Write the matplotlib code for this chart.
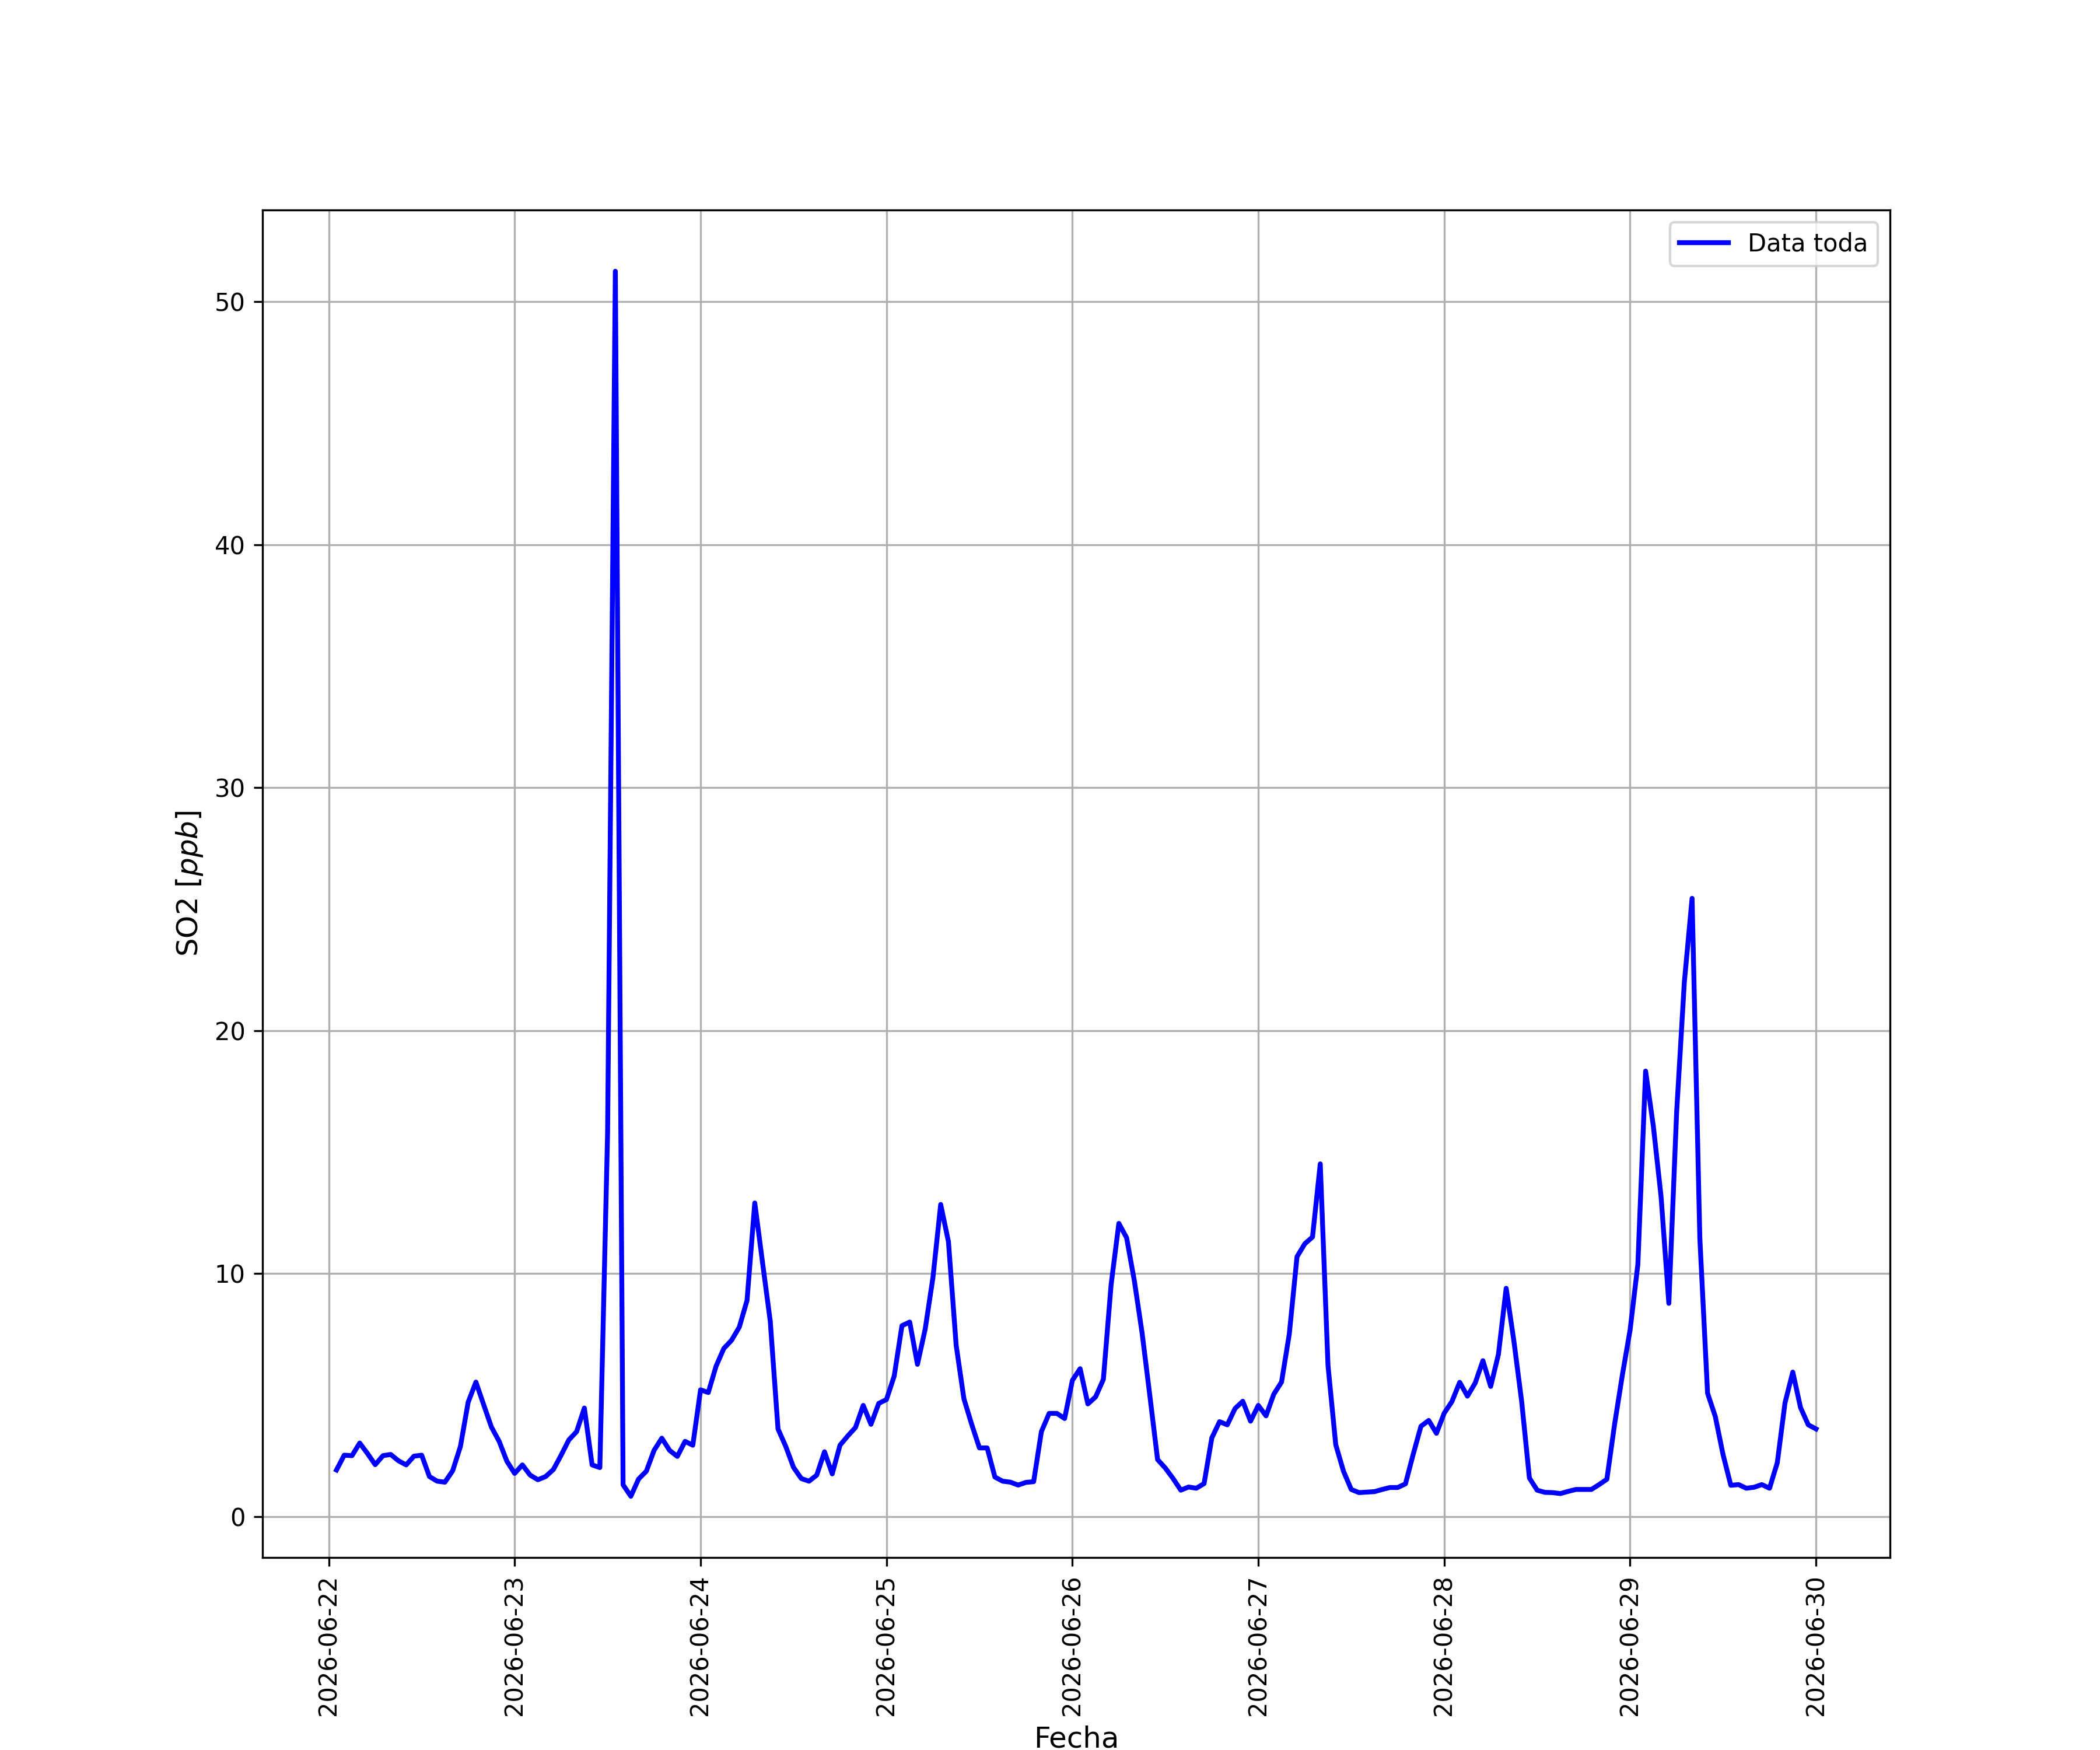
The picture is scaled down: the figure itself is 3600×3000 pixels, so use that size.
import numpy as np
import pandas as pd
import matplotlib
matplotlib.use("Agg")
import matplotlib.pyplot as plt
import matplotlib.dates as mdates

start_time = "2026-06-22 01:00"
n_hours = 192

day1 = [1.91, 2.52, 2.50, 3.02, 2.59, 2.13, 2.50, 2.55, 2.29, 2.12, 2.48, 2.52,
        1.64, 1.45, 1.41, 1.88, 2.88, 4.70, 5.53, 4.60, 3.68, 3.09, 2.27, 1.77]
day2 = [2.12, 1.70, 1.51, 1.64, 1.93, 2.52, 3.15, 3.49, 4.46, 2.12, 2.01, 15.8,
        51.25, 1.30, 0.83, 1.54, 1.86, 2.72, 3.22, 2.72, 2.47, 3.09, 2.93, 5.21]
day3 = [5.10, 6.18, 6.91, 7.25, 7.79, 8.89, 12.90, 10.45, 8.03, 3.60, 2.88, 2.02,
        1.56, 1.45, 1.70, 2.66, 1.75, 2.93, 3.31, 3.66, 4.57, 3.79, 4.65, 4.81]
day4 = [5.78, 7.85, 8.00, 6.26, 7.71, 9.83, 12.84, 11.31, 7.04, 4.84, 3.79, 2.82,
        2.82, 1.62, 1.45, 1.41, 1.29, 1.40, 1.43, 3.49, 4.24, 4.24, 4.03, 5.60]
day5 = [6.08, 4.63, 4.92, 5.64, 9.54, 12.06, 11.47, 9.70, 7.55, 4.97, 2.34, 1.99,
        1.56, 1.08, 1.21, 1.16, 1.35, 3.23, 3.90, 3.77, 4.44, 4.74, 3.92, 4.57]
day6 = [4.14, 5.03, 5.53, 7.50, 10.69, 11.22, 11.50, 14.51, 6.21, 2.95, 1.86, 1.11,
        0.98, 1.00, 1.02, 1.11, 1.19, 1.19, 1.34, 2.56, 3.71, 3.95, 3.42, 4.25]
day7 = [4.73, 5.52, 4.95, 5.49, 6.41, 5.35, 6.67, 9.39, 7.21, 4.73, 1.58, 1.08,
        0.99, 0.98, 0.94, 1.03, 1.11, 1.11, 1.11, 1.31, 1.53, 3.80, 5.82, 7.68]
day8 = [10.37, 18.33, 16.06, 13.15, 8.77, 16.60, 21.99, 25.44, 11.46, 5.07, 4.11, 2.54,
        1.28, 1.31, 1.16, 1.20, 1.31, 1.16, 2.21, 4.68, 5.94, 4.48, 3.77, 3.60]

so2 = day1 + day2 + day3 + day4 + day5 + day6 + day7 + day8
fechas = pd.date_range(start_time, periods=n_hours, freq="h")

fig, ax = plt.subplots(figsize=(12, 10), dpi=300)
ax.plot(fechas, so2, color="blue", linewidth=2, label="Data toda")
ax.grid(True)
ax.xaxis.set_major_locator(mdates.DayLocator())
ax.xaxis.set_major_formatter(mdates.DateFormatter("%Y-%m-%d"))
plt.setp(ax.get_xticklabels(), rotation=90)
ax.set_xlabel("Fecha", fontsize=12)
ax.set_ylabel("SO2 [$ppb$]", fontsize=12)
ax.legend(loc="upper right")
fig.savefig("out.png", dpi=300)
